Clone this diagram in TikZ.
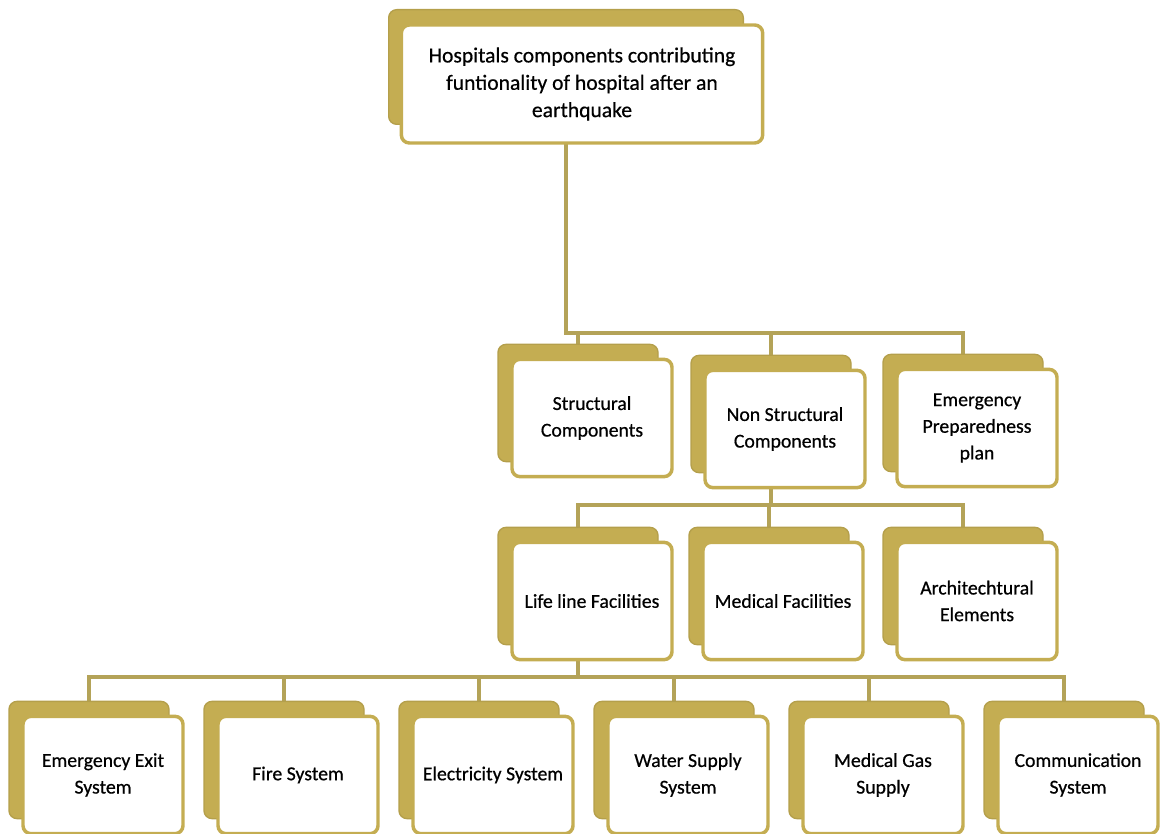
\documentclass[tikz,border=0pt]{standalone}
\usepackage{fontspec}
\setmainfont{Carlito}[FakeBold=0.6]
\definecolor{boxgold}{RGB}{196,173,82}
\definecolor{linkgold}{RGB}{180,163,88}
\usetikzlibrary{calc}
\usetikzlibrary{positioning}
\usetikzlibrary{backgrounds}

\tikzset{
  card/.style={draw=boxgold, line width=2.6pt, fill=white, rounded corners=6pt,
    minimum width=120pt, minimum height=88pt, align=center, inner sep=2pt,
    font=\fontsize{14.8}{20}\selectfont},
  cardback/.style={draw=boxgold!92!black, line width=1pt, fill=boxgold, rounded corners=6pt,
    minimum width=120pt, minimum height=88pt},
  link/.style={draw=linkgold, line width=2.6pt},
}

\begin{document}
\begin{tikzpicture}[x=0.75pt, y=-0.75pt]
  \useasboundingbox (0,0) rectangle (1168,834);

  % top box
  \node [cardback, minimum width=266pt, minimum height=86pt] (top-s) at (566,67) {};
  \node [card, minimum width=271pt, minimum height=88.5pt, font=\fontsize{16.2}{20.5}\selectfont]
    (top) at (582,84)
    {Hospitals components contributing\\funtionality of hospital after an\\earthquake};

  % second row
  \foreach \n/\x/\y/\t in {struct/592/418/{Structural\\Components},
      nonstruct/785/429/{Non Structural\\Components},
      prep/977/428/{Emergency\\Preparedness\\plan}} {
    \node [cardback] (\n-s) at (\x-14,\y-15) {};
    \node [card] (\n) at (\x,\y) {\t};
  }

  % third row
  \foreach \n/\x/\t in {life/592/{Life line Facilities},
      med/783/{Medical Facilities},
      arch/977/{Architechtural\\Elements}} {
    \node [cardback] (\n-s) at (\x-14,586) {};
    \node [card] (\n) at (\x,601) {\t};
  }

  % bottom row
  \foreach \n/\i/\t in {exit/0/{Emergency Exit\\System}, fire/1/{Fire System},
      elec/2/{Electricity System}, water/3/{Water Supply\\System},
      gas/4/{Medical Gas\\Supply}, comm/5/{Communication\\System}} {
    \node [cardback] (\n-s) at (89+195*\i,760) {};
    \node [card] (\n) at (103+195*\i,775) {\t};
  }

  \coordinate (busa) at (0,333);
  \coordinate (busb) at (0,505);
  \coordinate (busc) at (0,677);

  \begin{scope}[on background layer]
    \draw [link] (top-s.south) |- (prep-s.north |- busa) -- (prep-s.north);
    \draw [link] (struct-s.north) -- (struct-s.north |- busa);
    \draw [link] (nonstruct-s.north) -- (nonstruct-s.north |- busa);

    \draw [link] (nonstruct-s.south) -- (nonstruct-s.south |- busb);
    \draw [link] (life-s.north) |- (arch-s.north |- busb) -- (arch-s.north);
    \draw [link] (med-s.north) -- (med-s.north |- busb);

    \draw [link] (life-s.south) -- (life-s.south |- busc);
    \draw [link] (exit-s.north) |- (comm-s.north |- busc) -- (comm-s.north);
    \foreach \n in {fire,elec,water,gas}
      \draw [link] (\n-s.north) -- (\n-s.north |- busc);
  \end{scope}
\end{tikzpicture}
\end{document}
